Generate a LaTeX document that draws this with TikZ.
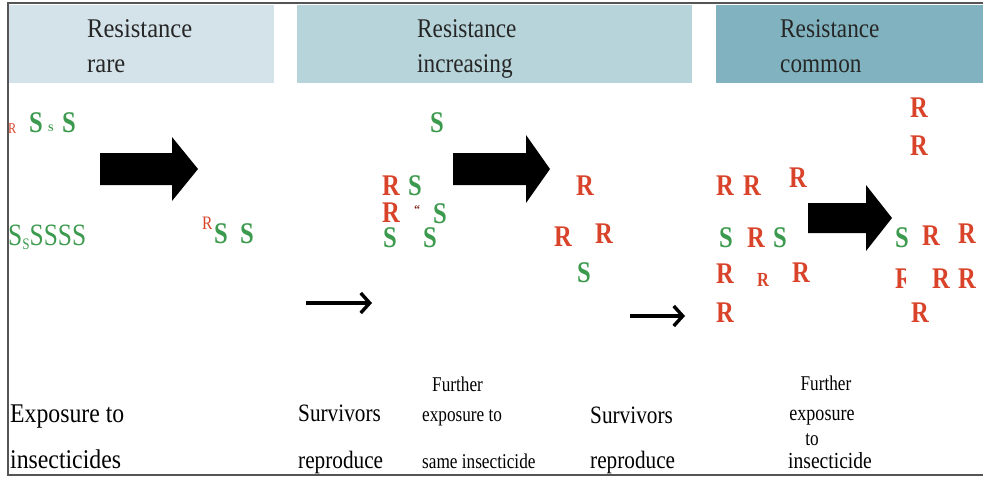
\documentclass[tikz,border=0pt]{standalone}
\usepackage{fontspec}
\setmainfont{Liberation Serif}
\newfontfamily\cnd[FakeStretch=0.82]{Liberation Serif}
\newfontfamily\hdf[FakeStretch=0.86]{Liberation Serif}
\newfontfamily\hdfw[FakeStretch=0.91]{Liberation Serif}
\newfontfamily\lbA[FakeStretch=0.88]{Liberation Serif}
\newfontfamily\lbB[FakeStretch=0.85]{Liberation Serif}
\newfontfamily\lbC[FakeStretch=0.82]{Liberation Serif}
\usetikzlibrary{arrows.meta}
\definecolor{rred}{HTML}{D8432A}
\definecolor{sgreen}{HTML}{3C9A4E}
\definecolor{hdA}{HTML}{D4E3EA}
\definecolor{hdB}{HTML}{B7D4DA}
\definecolor{hdC}{HTML}{80B3BF}
\definecolor{frm}{HTML}{555555}
\tikzset{
  lt/.style={inner sep=0pt, anchor=base west},
  bigR/.style={lt, text=rred, font=\cnd\bfseries\fontsize{30}{30}\selectfont},
  bigS/.style={lt, text=sgreen, font=\cnd\bfseries\fontsize{30}{30}\selectfont},
  hdtxt/.style={lt, text=black!85, font=\hdf\fontsize{27}{27}\selectfont},
  lbla/.style={lt, font=\lbA\fontsize{27}{27}\selectfont},
  lblb/.style={lt, font=\lbB\fontsize{25}{25}\selectfont},
  lblc/.style={inner sep=0pt, font=\lbC\fontsize{21}{21}\selectfont},
  fatarrow/.style={fill=black},
  thinarrow/.style={draw=black, line width=4pt, -{Straight Barb[length=9pt, width=20pt, line width=3.4pt]}},
}
\begin{document}
\begin{tikzpicture}[x=1pt, y=-1pt]
\useasboundingbox (0,0) rectangle (983,477);
% frame
\draw[frm, line width=1.3pt] (983,3) -- (8,3) -- (8,475) -- (983,475);
% header bars
\fill[hdA] (9,5) rectangle (274,83);
\fill[hdB] (297,5) rectangle (692,83);
\fill[hdC] (716,5) rectangle (983,83);
\node[hdtxt, font=\hdfw\fontsize{27}{27}\selectfont] (h1a) at (87,37) {Resistance};
\node[hdtxt, font=\hdfw\fontsize{27}{27}\selectfont] (h1b) at (87,72) {rare};
\node[hdtxt] (h2a) at (417,37) {Resistance};
\node[hdtxt] (h2b) at (417,72) {increasing};
\node[hdtxt] (h3a) at (780,37) {Resistance};
\node[hdtxt] (h3b) at (780,72) {common};

% ---------- panel 1 ----------
\node[lt, text=rred, font=\cnd\fontsize{15}{15}\selectfont] (p1r1) at (8,133) {R};
\node[bigS] (p1s1) at (29,132) {S};
\node[lt, text=sgreen, font=\bfseries\fontsize{10}{10}\selectfont] (p1s2) at (48,131) {S};
\node[bigS] (p1s3) at (62,132) {S};
\node[bigS, font=\cnd\fontsize{31}{31}\selectfont] (p1row) at (8,245)
  {S\raisebox{-4pt}{\fontsize{16}{16}\selectfont S}SSSS};
\node[lt, text=rred, font=\cnd\fontsize{19}{19}\selectfont] (p1r2) at (202,229) {R};
\node[bigS] (p1s4) at (214,243) {S};
\node[bigS] (p1s5) at (240,243) {S};
\fill[fatarrow] (100,153) -- (172,153) -- (172,137) -- (198,169) -- (172,201) -- (172,185) -- (100,185) -- cycle;

% ---------- panel 2 ----------
\node[bigS] (p2s1) at (430,132) {S};
\node[bigR] (p2r1) at (382,195) {R};
\node[bigS] (p2s2) at (408,195) {S};
\node[bigR] (p2r2) at (382,222) {R};
\node[lt, text=rred!60!black, font=\bfseries\fontsize{12}{12}\selectfont] (p2x) at (414,213) {``};
\node[bigS] (p2s3) at (433,223) {S};
\node[bigS] (p2s4) at (383,247) {S};
\node[bigS] (p2s5) at (423,247) {S};
\fill[fatarrow] (453,153) -- (526,153) -- (526,135) -- (550,169) -- (526,203) -- (526,185) -- (453,185) -- cycle;
\node[bigR] (p2r3) at (576,195) {R};
\node[bigR] (p2r4) at (554,246) {R};
\node[bigR] (p2r5) at (595,243) {R};
\node[bigS] (p2s6) at (577,282) {S};
\coordinate (a1s) at (306,303);
\coordinate (a1e) at (372,303);
\draw[thinarrow] (a1s) -- (a1e);
\coordinate (a2s) at (630,316);
\coordinate (a2e) at (685,316);
\draw[thinarrow] (a2s) -- (a2e);

% ---------- panel 3 ----------
\node[bigR] (p3r1) at (910,117) {R};
\node[bigR] (p3r2) at (910,155) {R};
\node[bigR] (p3r3) at (716,195) {R};
\node[bigR] (p3r4) at (743,195) {R};
\node[bigR] (p3r5) at (789,187) {R};
\node[bigS] (p3s1) at (719,247) {S};
\node[bigR] (p3r6) at (747,247) {R};
\node[bigS] (p3s2) at (773,247) {S};
\node[bigR] (p3r7) at (716,283) {R};
\node[lt, text=rred, font=\cnd\bfseries\fontsize{20}{20}\selectfont] (p3r8) at (757,286) {R};
\node[bigR] (p3r9) at (792,282) {R};
\node[bigR] (p3r10) at (716,322) {R};
\fill[fatarrow] (808,203) -- (866,203) -- (866,185) -- (892,218) -- (866,251) -- (866,233) -- (808,233) -- cycle;
\node[bigS] (p3s3) at (895,247) {S};
\node[bigR] (p3r11) at (922,245) {R};
\node[bigR] (p3r12) at (958,243) {R};
\begin{scope}
\clip (894,262) rectangle (905,292);
\node[bigR] (p3r13) at (895,288) {R};
\end{scope}
\node[bigR] (p3r14) at (932,288) {R};
\node[bigR] (p3r15) at (958,288) {R};
\node[bigR] (p3r16) at (911,322) {R};

% ---------- bottom labels ----------
\node[lbla] (b1a) at (10,422) {Exposure to};
\node[lbla] (b1b) at (10,468) {insecticides};
\node[lblb] (b2a) at (298,421) {Survivors};
\node[lblb] (b2b) at (298,468) {reproduce};
\node[lblc, anchor=base west] (b3a) at (432,391) {Further};
\node[lblc, anchor=base west] (b3b) at (422,421) {exposure to};
\node[lblc, anchor=base west] (b3c) at (422,468) {same insecticide};
\node[lblb] (b4a) at (590,423) {Survivors};
\node[lblb] (b4b) at (590,468) {reproduce};
\node[lblc, anchor=base] (b5a) at (826,390) {Further};
\node[lblc, anchor=base, font=\lbC\fontsize{22}{22}\selectfont] (b5b) at (822,420) {exposure};
\node[lblc, anchor=base] (b5c) at (812,445) {to};
\node[lblc, anchor=base, font=\lbB\fontsize{23}{23}\selectfont] (b5d) at (830,468) {insecticide};
\end{tikzpicture}
\end{document}
